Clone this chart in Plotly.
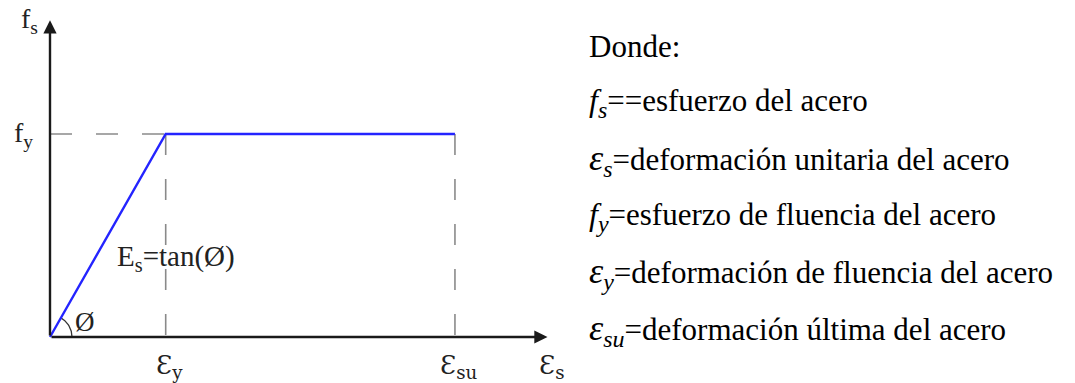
import numpy as np
import plotly.graph_objects as go

# Idealised elasto-plastic steel model (normalised units)
strain = [0.0, 1.0, 3.5]          # 0, eps_y, eps_su
stress = [0.0, 1.0, 1.0]          # 0, f_y, f_y
x_axis_end = 4.3
y_axis_end = 1.56

tick_x_symbols = ["y", "su", "s"]
tick_x_pos = [1.0, 3.5, 4.3]
y_symbols = ["s", "y"]
y_label_pos = [1.56, 1.0]
slope_label = "E<sub>s</sub>=tan(Ø)"
angle_label = "Ø"

legend_terms = [("", ""), ("f", "s"), ("ε", "s"), ("f", "y"), ("ε", "y"), ("ε", "su")]
legend_texts = [
    "Donde:",
    "==esfuerzo del acero",
    "=deformación unitaria del acero",
    "=esfuerzo de fluencia del acero",
    "=deformación de fluencia del acero",
    "=deformación última del acero",
]


def math_term(sym, sub):
    """Italic symbol with an enlarged italic subscript."""
    size = 36 if sym == "ε" else 32
    return (f"<span style='font-size:{size}px;font-style:italic'>{sym}</span>"
            f"<sub><span style='font-size:24px;font-style:italic'>{sub}</span></sub>")


W, H = 1075, 383
# pixel scale of the drawing
px_x = 115.7
px_y = 203.0
x0_px, y0_px = 50.0, 337.0
xr = [-x0_px / px_x, (W - x0_px) / px_x]
yr = [(y0_px - H) / px_y, y0_px / px_y]

SERIF = "Times New Roman, Liberation Serif, DejaVu Serif, serif"
fig = go.Figure()

# dashed guides
fig.add_trace(go.Scatter(x=[0, strain[1]], y=[stress[1], stress[1]], mode="lines",
                         line=dict(color="#8a8a8a", width=1.6, dash="22px,24px"),
                         hoverinfo="skip"))
for xv in strain[1:]:
    fig.add_trace(go.Scatter(x=[xv, xv], y=[stress[1], 0], mode="lines",
                             line=dict(color="#8a8a8a", width=1.6, dash="21px,24px"),
                             hoverinfo="skip"))

# angle arc at the origin
theta = np.arctan2(stress[1] * px_y, strain[1] * px_x)
t = np.linspace(0, theta, 30)
r_px = 22
fig.add_trace(go.Scatter(x=r_px * np.cos(t) / px_x, y=r_px * np.sin(t) / px_y, mode="lines",
                         line=dict(color="#333333", width=1.3), hoverinfo="skip"))

# stress-strain curve
fig.add_trace(go.Scatter(x=strain, y=stress, mode="lines",
                         line=dict(color="#2424ff", width=2.4), hoverinfo="skip"))

ann = []
# axes with arrowheads
ann.append(dict(x=x_axis_end, y=0, ax=0, ay=0, xref="x", yref="y", axref="x", ayref="y",
                showarrow=True, arrowhead=2, arrowsize=1.1, arrowwidth=2.4,
                arrowcolor="#1a1a1a", text=""))
ann.append(dict(x=0, y=y_axis_end, ax=0, ay=0, xref="x", yref="y", axref="x", ayref="y",
                showarrow=True, arrowhead=2, arrowsize=1.1, arrowwidth=2.4,
                arrowcolor="#1a1a1a", text=""))

# strain labels under the x axis (open epsilon glyph)
label_y = (y0_px - 366) / px_y
for sub, xv in zip(tick_x_symbols, tick_x_pos):
    ann.append(dict(x=xv, y=label_y, xref="x", yref="y", text=f"Ɛ<sub>{sub}</sub>",
                    showarrow=False, xanchor="center", yanchor="middle", xshift=4,
                    font=dict(family="DejaVu Serif", size=26, color="#222")))
# stress labels left of the y axis
for sub, yv, dx in zip(y_symbols, y_label_pos, [-10, -15]):
    ann.append(dict(x=0, y=yv, xref="x", yref="y", text=f"f<sub>{sub}</sub>",
                    showarrow=False, xanchor="right", yanchor="middle", xshift=dx,
                    font=dict(family=SERIF, size=28, color="#222")))

ann.append(dict(x=(176 - x0_px) / px_x, y=(y0_px - 258) / px_y, xref="x", yref="y",
                text=slope_label, showarrow=False, xanchor="center", yanchor="middle",
                font=dict(family=SERIF, size=29, color="#222")))
ann.append(dict(x=(85 - x0_px) / px_x, y=(y0_px - 322) / px_y, xref="x", yref="y",
                text=angle_label, showarrow=False, xanchor="center", yanchor="middle",
                font=dict(family=SERIF, size=27, color="#222")))

# definitions list
for i, ((sym, sub), txt) in enumerate(zip(legend_terms, legend_texts)):
    line = (math_term(sym, sub) if sym else "") + txt
    base_px = 56 + i * 56.8
    ann.append(dict(x=587 / W, y=1 - (base_px - 10) / H, xref="paper", yref="paper",
                    text=line, showarrow=False, xanchor="left", yanchor="middle",
                    font=dict(family=SERIF, size=31, color="#000")))

fig.update_layout(
    width=W, height=H, margin=dict(l=0, r=0, t=0, b=0),
    paper_bgcolor="white", plot_bgcolor="white", showlegend=False,
    xaxis=dict(range=xr, visible=False, fixedrange=True),
    yaxis=dict(range=yr, visible=False, fixedrange=True),
    annotations=ann,
)

fig.write_html("out.html")
